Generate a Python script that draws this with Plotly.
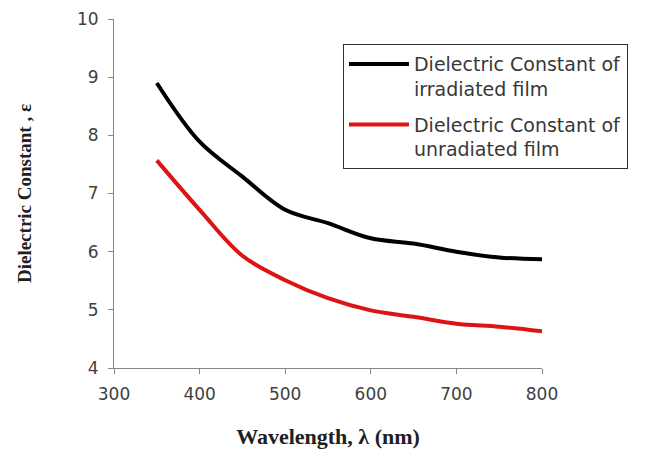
import plotly.graph_objects as go

wavelength = [350, 400, 450, 500, 550, 600, 650, 700, 750, 800]
irradiated = [8.90, 7.89, 7.29, 6.72, 6.49, 6.23, 6.14, 6.00, 5.90, 5.87]
unradiated = [7.57, 6.72, 5.93, 5.51, 5.20, 4.99, 4.88, 4.76, 4.71, 4.63]

name_irr = "Dielectric Constant of<br>irradiated film"
name_unr = "Dielectric Constant of<br>unradiated film"

x_ticks = [300, 400, 500, 600, 700, 800]
y_ticks = [4, 5, 6, 7, 8, 9, 10]

fig = go.Figure()
fig.add_trace(go.Scatter(x=wavelength, y=irradiated, mode="lines", name=name_irr,
                         legendgroup="irr",
                         line=dict(color="black", width=4, shape="spline", smoothing=1.0)))
fig.add_trace(go.Scatter(x=wavelength, y=unradiated, mode="lines", name=name_unr,
                         legendgroup="unr",
                         line=dict(color="#dc1414", width=4, shape="spline", smoothing=1.0)))

axis_common = dict(showgrid=False, zeroline=False, showline=True, linecolor="#868686",
                   linewidth=1, ticks="outside", ticklen=5, tickcolor="#868686",
                   ticklabelstandoff=6, automargin=False,
                   tickfont=dict(family="DejaVu Sans", size=17, color="#404040"))

fig.update_layout(
    width=668, height=449,
    margin=dict(l=114, r=126, t=19, b=81),
    paper_bgcolor="white", plot_bgcolor="white",
    showlegend=True,
    legend=dict(x=0.535, y=0.928, xanchor="left", yanchor="top",
                bordercolor="#303030", borderwidth=1, bgcolor="white",
                font=dict(family="DejaVu Sans", size=19, color="#383838"),
                valign="top", itemwidth=60, tracegroupgap=8),
    xaxis=dict(range=[300, 800], tickvals=x_ticks,
               title=dict(text="<b>Wavelength, λ (nm)</b>", standoff=26,
                          font=dict(family="Liberation Serif", size=22, color="#202020")),
               **axis_common),
    yaxis=dict(range=[4, 10], tickvals=y_ticks,
               title=dict(text="<b>Dielectric Constant , ε</b>", standoff=40,
                          font=dict(family="Liberation Serif", size=19, color="#202020")),
               **axis_common),
)

fig.write_html("out.html")
